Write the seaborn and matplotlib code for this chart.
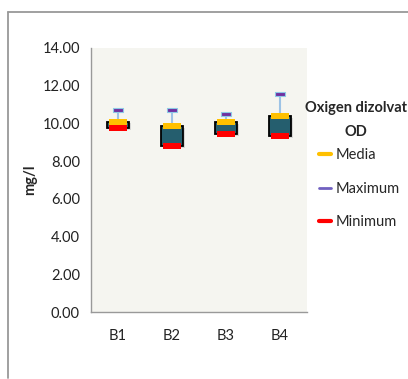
import matplotlib
matplotlib.use("Agg")
import matplotlib.pyplot as plt
import seaborn as sns
import pandas as pd
import numpy as np
from matplotlib.lines import Line2D
from matplotlib.path import Path

categories = ["B1", "B2", "B3", "B4"]
media = [10.10, 9.87, 10.08, 10.39]
maximum = [10.72, 10.70, 10.50, 11.58]
minimum = [9.76, 8.80, 9.45, 9.33]
yticks = [0, 2, 4, 6, 8, 10, 12, 14]

sns.set_theme(style="white")
plt.rcParams['font.family'] = ['Lato', 'DejaVu Sans']

df = pd.DataFrame({"cat": categories, "Media": media, "Maximum": maximum, "Minimum": minimum})

fig = plt.figure(figsize=(4.08, 3.79), dpi=100)
W, H = 408, 379
ax = fig.add_axes([91 / W, 1 - 312 / H, (307 - 91) / W, (312 - 48) / H])
ax.set_facecolor("#f5f5f0")

x = np.arange(len(categories))
lo = np.minimum(df["Media"], df["Minimum"])
hi = np.maximum(df["Media"], df["Minimum"])

# high-low lines
ax.vlines(x, df["Minimum"], df["Maximum"], color="#9dc3e6", lw=1.5, zorder=2)
# shadow of boxes
ax.bar(x + 0.04, hi - lo, bottom=lo - 0.10, width=0.40, color="#bbbbbb", alpha=0.5, zorder=2.5, linewidth=0)
# up/down bars
ax.bar(x, hi - lo, bottom=lo, width=0.40, color="#255e6e", edgecolor="black", linewidth=1.3, zorder=3)

# rectangular dash markers
rect = Path([(-1.4, -0.5), (1.4, -0.5), (1.4, 0.5), (-1.4, 0.5), (-1.4, -0.5)],
            [Path.MOVETO, Path.LINETO, Path.LINETO, Path.LINETO, Path.CLOSEPOLY])
long_df = df.melt(id_vars="cat", var_name="series", value_name="val")
pal = {"Media": "#ffc000", "Maximum": "#7030a0", "Minimum": "#ff0000"}
sizes = {"Media": 150, "Maximum": 55, "Minimum": 150}
edge = {"Media": "none", "Maximum": "#8ecae6", "Minimum": "none"}
for s in ["Media", "Minimum", "Maximum"]:
    sub = long_df[long_df["series"] == s]
    sns.scatterplot(data=sub, x="cat", y="val", marker=rect, color=pal[s], s=sizes[s],
                    edgecolor=edge[s], linewidth=0.8, ax=ax, zorder=4, legend=False)

ax.set_xlim(-0.5, 3.5)
ax.set_ylim(0, 14)
ax.set_yticks(yticks)
ax.set_yticklabels([f"{v:.2f}" for v in yticks], fontsize=10.5, color="#222222")
ax.set_xticks(x)
ax.set_xticklabels(categories, fontsize=10.5, color="#222222")
ax.set_xticks(np.arange(-0.5, 4.0, 1.0), minor=True)
ax.tick_params(axis="x", which="major", length=0, pad=12)
ax.tick_params(axis="x", which="minor", length=4, color="#999999", direction="out")
ax.tick_params(axis="y", length=4, color="#999999", direction="out", pad=4)
ax.set_xlabel("")
ax.set_ylabel("mg/l", fontsize=10.5, fontweight="bold", labelpad=4)
for sp in ["top", "right"]:
    ax.spines[sp].set_visible(False)
for sp in ["left", "bottom"]:
    ax.spines[sp].set_color("#999999")
    ax.spines[sp].set_linewidth(1.0)

# legend
handles = [Line2D([0], [0], color=pal[s] if s != "Maximum" else "#7060c0", lw=3 if s != "Maximum" else 2)
           for s in ["Media", "Maximum", "Minimum"]]
leg = fig.legend(handles, ["Media", "Maximum", "Minimum"], loc="upper left",
                 bbox_to_anchor=(306 / W, 1 - 135 / H), frameon=False,
                 fontsize=10.5, handlelength=0.8, handletextpad=0.3, labelspacing=1.35)
fig.text(356 / W, 1 - 108 / H, "Oxigen dizolvat", ha="center", va="center", fontsize=10.5, fontweight="bold")
fig.text(356 / W, 1 - 132 / H, "OD", ha="center", va="center", fontsize=10.5, fontweight="bold")

# outer frame
fig.add_artist(Line2D([8 / W, 8 / W], [1 - 378 / H, 1 - 12 / H], color="#999999", lw=1.3))
fig.add_artist(Line2D([8 / W, 1.0], [1 - 12 / H, 1 - 12 / H], color="#999999", lw=1.3))

fig.savefig("out.png", dpi=100)
